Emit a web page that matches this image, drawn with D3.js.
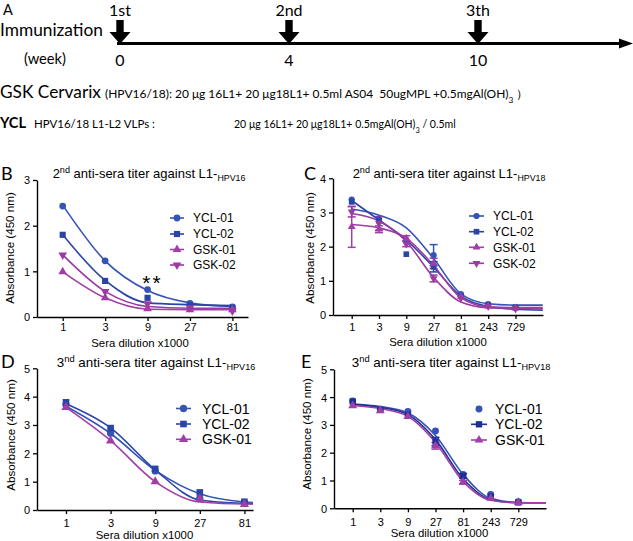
<!DOCTYPE html>
<html><head><meta charset="utf-8">
<script src="https://cdn.jsdelivr.net/npm/d3@7"></script>
<style>body{margin:0;background:#fff} svg{display:block} text{white-space:pre}</style>
</head><body>
<svg id="fig" width="633" height="541"></svg>
<script>
// ---------------- DATA ----------------
// Panel A
const weeks = ["0", "4", "10"];
const doseLabels = ["1st", "2nd", "3th"];

const seriesNames = ["YCL-01", "YCL-02", "GSK-01", "GSK-02"];

// Panel B : 2nd anti-sera titer against L1-HPV16
const dilB = [1, 3, 9, 27, 81];
const bYCL01 = [2.43, 1.23, 0.60, 0.30, 0.22];
const bYCL02 = [1.80, 0.79, 0.42, 0.25, 0.20];
const bGSK01 = [0.99, 0.42, 0.18, 0.16, 0.16];
const bGSK02 = [1.36, 0.56, 0.29, 0.20, 0.13];
const fitDilB = [1, 3, 9, 27, 81];
const bFitYCL01 = [2.45, 1.23, 0.58, 0.31, 0.23];
const bFitYCL02 = [1.80, 0.80, 0.31, 0.27, 0.25];
const bFitGSK01 = [0.99, 0.42, 0.17, 0.16, 0.16];
const bFitGSK02 = [1.36, 0.56, 0.23, 0.19, 0.19];

// Panel C : 2nd anti-sera titer against L1-HPV18
const dilC = [1, 3, 9, 27, 81, 243, 729];
const cYCL01 = [3.38, 2.80, 2.19, 1.75, 0.61, 0.32, 0.22];
const cYCL02 = [3.31, 2.76, 1.78, 1.41, 0.55, 0.29, 0.22];
const cGSK01 = [2.58, 2.51, 2.24, 1.51, 0.54, 0.26, 0.20];
const cGSK02 = [3.02, 2.68, 2.08, 1.07, 0.49, 0.25, 0.18];
const cErrYCL01 = [0, 0, 0, 0.31, 0, 0, 0];
const cErrYCL02 = [0, 0, 0, 0.15, 0, 0, 0];
const cErrGSK01 = [0.60, 0.10, 0.08, 0.15, 0, 0, 0];
const cErrGSK02 = [0.15, 0.20, 0.08, 0.10, 0, 0, 0];
const fitDilC = [1, 3, 9, 27, 81, 243, 729, 2187];
const cFitYCL01 = [3.10, 2.92, 2.55, 1.65, 0.62, 0.33, 0.29, 0.29];
const cFitYCL02 = [3.35, 2.78, 2.20, 1.40, 0.55, 0.25, 0.17, 0.14];
const cFitGSK01 = [2.65, 2.55, 2.25, 1.45, 0.50, 0.24, 0.22, 0.22];
const cFitGSK02 = [2.97, 2.75, 2.15, 1.10, 0.38, 0.21, 0.19, 0.18];

// Panel D : 3nd anti-sera titer against L1-HPV16
const dilD = [1, 3, 9, 27, 81];
const dYCL01 = [3.71, 2.71, 1.38, 0.41, 0.27];
const dYCL02 = [3.80, 2.89, 1.45, 0.62, 0.29];
const dGSK01 = [3.62, 2.44, 1.00, 0.39, 0.20];
const fitDilD = [1, 3, 9, 27, 81, 100];
const dFitYCL01 = [3.66, 2.70, 1.40, 0.57, 0.28, 0.26];
const dFitYCL02 = [3.75, 2.90, 1.42, 0.35, 0.23, 0.22];
const dFitGSK01 = [3.62, 2.45, 1.00, 0.28, 0.21, 0.21];

// Panel E : 3nd anti-sera titer against L1-HPV18
const dilE = [1, 3, 9, 27, 81, 243, 729];
const eYCL01 = [3.86, 3.56, 3.48, 2.78, 1.22, 0.50, 0.24];
const eYCL02 = [3.84, 3.54, 3.36, 2.40, 1.17, 0.42, 0.21];
const eGSK01 = [3.69, 3.51, 3.30, 2.25, 0.94, 0.36, 0.21];
const eErrYCL02 = [0, 0, 0, 0.15, 0.08, 0, 0];
const eErrGSK01 = [0, 0, 0, 0.12, 0.06, 0, 0];
const fitDilE = [1, 3, 9, 27, 81, 243, 729, 2187];
const eFitYCL01 = [3.75, 3.66, 3.43, 2.62, 1.22, 0.36, 0.21, 0.20];
const eFitYCL02 = [3.74, 3.63, 3.37, 2.47, 1.06, 0.31, 0.20, 0.20];
const eFitGSK01 = [3.70, 3.59, 3.31, 2.37, 0.97, 0.29, 0.20, 0.20];

const xTicks5 = [1, 3, 9, 27, 81];
const xTicks7 = [1, 3, 9, 27, 81, 243, 729];

// ---------------- STYLE ----------------
const BLUE = "#3554b6", BLUE2 = "#2a44a8", NAVY = "#1f2f96", PURPLE = "#a23ea8", PURPLE2 = "#9a3aa2";
const FONT = "'Liberation Sans', Arial, sans-serif";
const FONTA = "Lato, 'Open Sans', sans-serif";

const svg = d3.select("#fig");

function fitWidth(sel, w) {
  const L = sel.node().getComputedTextLength();
  const fs = parseFloat(sel.attr("font-size"));
  sel.attr("font-size", fs * w / L);
}

// ---------------- PANEL A ----------------
const gA = svg.append("g");
const wx = d3.scaleOrdinal().domain(weeks).range([120, 289, 478]);
gA.append("text").attr("x", 3).attr("y", 14.5).attr("font-family", FONTA).attr("font-size", 14.5).text("A");
gA.append("text").attr("x", 0).attr("y", 36).attr("font-family", FONTA).attr("font-size", 17)
  .text("Immunization").call(fitWidth, 103);
gA.append("text").attr("x", 24).attr("y", 64).attr("font-family", FONTA).attr("font-size", 16)
  .text("(week)").call(fitWidth, 42);
// timeline
gA.append("line").attr("x1", 117).attr("x2", 622).attr("y1", 43.5).attr("y2", 43.5)
  .attr("stroke", "#000").attr("stroke-width", 3);
gA.append("path").attr("d", "M619,38.5L633,43.5L619,48.5Z").attr("fill", "#000");
weeks.forEach((w, i) => {
  const cx = wx(w);
  gA.append("path")
    .attr("d", `M${cx-3.7},20H${cx+3.7}V32H${cx+10.5}L${cx},44L${cx-10.5},32H${cx-3.7}Z`)
    .attr("fill", "#000");
  gA.append("text").attr("x", cx).attr("y", 16).attr("text-anchor", "middle")
    .attr("font-family", FONTA).attr("font-size", 16).text(doseLabels[i]);
  gA.append("text").attr("x", cx).attr("y", 66).attr("text-anchor", "middle")
    .attr("font-family", FONTA).attr("font-size", 16).text(w);
});
// formulations
gA.append("text").attr("x", 0).attr("y", 98).attr("font-family", FONTA).attr("font-size", 18)
  .text("GSK Cervarix").call(fitWidth, 101);
const gskT = gA.append("text").attr("x", 105).attr("y", 98).attr("font-family", FONTA).attr("font-size", 12);
gskT.append("tspan").text("(HPV16/18): 20 \u03bcg 16L1+ 20 \u03bcg18L1+ 0.5ml AS04  50ugMPL +0.5mgAl(OH)");
gskT.append("tspan").attr("font-size", "70%").attr("baseline-shift", "sub").text("3");
gskT.append("tspan").text(" \uff09");
gskT.call(fitWidth, 424);
gA.append("text").attr("x", 0).attr("y", 128).attr("font-family", FONTA).attr("font-size", 15)
  .attr("font-weight", "bold").text("YCL").call(fitWidth, 26);
gA.append("text").attr("x", 34).attr("y", 128).attr("font-family", FONTA).attr("font-size", 11)
  .text("HPV16/18 L1-L2 VLPs :").call(fitWidth, 121);
const yclT = gA.append("text").attr("x", 234).attr("y", 128).attr("font-family", FONTA).attr("font-size", 12);
yclT.append("tspan").text("20 \u03bcg 16L1+ 20 \u03bcg18L1+ 0.5mgAl(OH)");
yclT.append("tspan").attr("font-size", "70%").attr("baseline-shift", "sub").text("3");
yclT.append("tspan").text(" / 0.5ml");
yclT.call(fitWidth, 222);

// ---------------- CHART PANELS ----------------
const SYM = {
  circle: d3.symbolCircle, square: d3.symbolSquare, up: d3.symbolTriangle, down: d3.symbolTriangle
};

function panel(c) {
  const g = svg.append("g");
  // x scale calibrated on ticks, then extended to the axis extent
  const x0 = d3.scaleLog().base(3).domain([1, c.xRef]).range(c.xRefPx);
  const x = d3.scaleLog().base(3).domain([x0.invert(c.axisX[0]), x0.invert(c.axisX[1])]).range(c.axisX);
  const y = d3.scaleLinear().domain([0, c.yMax]).range(c.yPx);

  // axes
  const ax = g.append("g").attr("transform", `translate(0,${c.yPx[0]})`)
    .call(d3.axisBottom(x).tickValues(c.xTicks).tickFormat(d3.format("d")).tickSize(4).tickSizeOuter(0).tickPadding(4));
  const ay = g.append("g").attr("transform", `translate(${c.axisX[0]},0)`)
    .call(d3.axisLeft(y).tickValues(d3.range(0, c.yMax + 1)).tickFormat(d3.format("d")).tickSize(4).tickSizeOuter(0).tickPadding(3));
  [ax, ay].forEach(a => {
    a.select(".domain").attr("stroke", "#000").attr("stroke-width", 1.4);
    a.selectAll(".tick line").attr("stroke", "#000").attr("stroke-width", 1.3);
    a.selectAll(".tick text").attr("font-family", FONT).attr("font-size", 11).attr("fill", "#000");
  });
  ax.selectAll(".tick text").attr("dy", null).attr("y", c.tickBase - c.yPx[0]);
  ay.selectAll(".tick text").attr("dy", "0.36em");

  // axis titles
  g.append("text").attr("transform", `translate(${c.ylabX},${c.ylabY}) rotate(-90)`)
    .attr("text-anchor", "middle").attr("dy", "0.36em").attr("font-family", FONT).attr("font-size", 11.6)
    .text("Absorbance (450 nm)");
  g.append("text").attr("x", c.xlabX).attr("y", c.xlabBase).attr("text-anchor", "middle")
    .attr("font-family", FONT).attr("font-size", 11.4).text("Sera dilution x1000");

  // panel letter
  g.append("text").attr("x", c.letterX).attr("y", c.letterBase).attr("font-family", FONTA)
    .attr("font-size", 18).text(c.letter);

  // title
  const t = g.append("text").attr("x", c.titleX).attr("y", c.titleBase).attr("text-anchor", "middle")
    .attr("font-family", FONT).attr("font-size", c.titleFs);
  t.append("tspan").text(c.titleLead);
  t.append("tspan").attr("font-size", "70%").attr("baseline-shift", "super").text("nd");
  t.append("tspan").text(" anti-sera titer against L1-");
  t.append("tspan").attr("font-size", "68%").attr("baseline-shift", "-30%").text(c.titleSub);

  const line = d3.line().x(d => x(d[0])).y(d => y(d[1])).curve(d3.curveMonotoneX);

  // fitted curves
  c.series.forEach(s => {
    if (!s.fit) return;
    g.append("path").attr("d", line(c.fitDil.map((d, i) => [d, s.fit[i]])))
      .attr("fill", "none").attr("stroke", s.color).attr("stroke-width", 1.6);
  });
  // error bars
  c.series.forEach(s => {
    if (!s.err) return;
    c.dil.forEach((d, i) => {
      const e = s.err[i];
      if (!e) return;
      const px = x(d), y1 = y(s.vals[i] - e), y2 = y(s.vals[i] + e);
      g.append("line").attr("x1", px).attr("x2", px).attr("y1", y1).attr("y2", y2)
        .attr("stroke", s.color).attr("stroke-width", 1.5);
      [y1, y2].forEach(yy => g.append("line").attr("x1", px - 4).attr("x2", px + 4).attr("y1", yy).attr("y2", yy)
        .attr("stroke", s.color).attr("stroke-width", 1.5));
    });
  });
  // markers
  function marker(gg, s, px, py) {
    gg.append("path").attr("d", d3.symbol().type(SYM[s.shape]).size(s.shape === "circle" ? c.msize * 0.95 : s.shape === "square" ? c.msize : c.msize * 0.85)())
      .attr("transform", `translate(${px},${py})` + (s.shape === "down" ? " rotate(180)" : ""))
      .attr("fill", s.color);
  }
  c.series.forEach(s => {
    c.dil.forEach((d, i) => marker(g, s, x(d), y(s.vals[i])));
  });
  // extra annotation
  if (c.note) {
    g.append("text").attr("x", x(c.note.at) + 5).attr("y", c.note.base).attr("text-anchor", "middle")
      .attr("font-family", FONT).attr("font-size", 21).attr("letter-spacing", 2).text(c.note.text);
  }
  // legend
  c.series.forEach((s, i) => {
    const ry = c.legRows[i];
    if (s.fit && !s.noLegLine) g.append("line").attr("x1", c.legX[0]).attr("x2", c.legX[1]).attr("y1", ry).attr("y2", ry)
      .attr("stroke", s.color).attr("stroke-width", 1.6);
    marker(g, s, (c.legX[0] + c.legX[1]) / 2, ry);
    g.append("text").attr("x", c.legTx).attr("y", ry).attr("dy", "0.36em").attr("font-family", FONT)
      .attr("font-size", c.legFs).text(s.name);
  });
}

panel({
  letter: "B", letterX: 1, letterBase: 180,
  titleLead: "2", titleSub: "HPV16", titleX: 149, titleBase: 178, titleFs: 13,
  xRef: 81, xRefPx: [62.7, 232.4], axisX: [37, 248], yMax: 3, yPx: [317, 180], xTicks: xTicks5,
  tickBase: 331, ylabX: 10, ylabY: 248, xlabX: 140, xlabBase: 347,
  dil: dilB, fitDil: fitDilB, msize: 38,
  legRows: [218, 234, 249.5, 265], legX: [170, 184], legTx: 193, legFs: 12,
  note: { at: 9, base: 290, text: "**" },
  series: [
    { name: seriesNames[0], vals: bYCL01, fit: bFitYCL01, color: BLUE, shape: "circle" },
    { name: seriesNames[1], vals: bYCL02, fit: bFitYCL02, color: BLUE2, shape: "square" },
    { name: seriesNames[2], vals: bGSK01, fit: bFitGSK01, color: PURPLE, shape: "up" },
    { name: seriesNames[3], vals: bGSK02, fit: bFitGSK02, color: PURPLE2, shape: "down" }
  ]
});

panel({
  letter: "C", letterX: 304, letterBase: 180,
  titleLead: "2", titleSub: "HPV18", titleX: 449, titleBase: 178, titleFs: 13,
  xRef: 729, xRefPx: [351.7, 515.5], axisX: [333, 543], yMax: 4, yPx: [315, 178.3], xTicks: xTicks7,
  tickBase: 331, ylabX: 310, ylabY: 248, xlabX: 438, xlabBase: 346,
  dil: dilC, fitDil: fitDilC, msize: 32,
  legRows: [216, 231.7, 247.3, 263.3], legX: [469, 484], legTx: 493, legFs: 12,
  series: [
    { name: seriesNames[0], vals: cYCL01, err: cErrYCL01, fit: cFitYCL01, color: BLUE, shape: "circle" },
    { name: seriesNames[1], vals: cYCL02, err: cErrYCL02, fit: cFitYCL02, color: BLUE2, shape: "square" },
    { name: seriesNames[2], vals: cGSK01, err: cErrGSK01, fit: cFitGSK01, color: PURPLE, shape: "up" },
    { name: seriesNames[3], vals: cGSK02, err: cErrGSK02, fit: cFitGSK02, color: PURPLE2, shape: "down" }
  ]
});

panel({
  letter: "D", letterX: 1, letterBase: 368,
  titleLead: "3", titleSub: "HPV16", titleX: 156, titleBase: 367, titleFs: 13.4,
  xRef: 81, xRefPx: [66, 244.4], axisX: [37, 253], yMax: 5, yPx: [510, 368.3], xTicks: xTicks5,
  tickBase: 527, ylabX: 11, ylabY: 435, xlabX: 144.5, xlabBase: 539,
  dil: dilD, fitDil: fitDilD, msize: 44,
  legRows: [408.5, 424, 439.3], legX: [176, 191], legTx: 202, legFs: 14,
  series: [
    { name: seriesNames[0], vals: dYCL01, fit: dFitYCL01, color: BLUE, shape: "circle" },
    { name: seriesNames[1], vals: dYCL02, fit: dFitYCL02, color: BLUE2, shape: "square" },
    { name: seriesNames[2], vals: dGSK01, fit: dFitGSK01, color: PURPLE, shape: "up" }
  ]
});

panel({
  letter: "E", letterX: 301, letterBase: 368,
  titleLead: "3", titleSub: "HPV18", titleX: 451, titleBase: 367, titleFs: 13.4,
  xRef: 729, xRefPx: [352.7, 518.3], axisX: [334, 546], yMax: 5, yPx: [508.3, 369.3], xTicks: xTicks7,
  tickBase: 526, ylabX: 307, ylabY: 434, xlabX: 439.5, xlabBase: 537,
  dil: dilE, fitDil: fitDilE, msize: 40,
  legRows: [409, 424.3, 440], legX: [471, 487], legTx: 495, legFs: 14,
  series: [
    { name: seriesNames[0], vals: eYCL01, fit: eFitYCL01, color: BLUE, shape: "circle", noLegLine: true },
    { name: seriesNames[1], vals: eYCL02, err: eErrYCL02, fit: eFitYCL02, color: NAVY, shape: "square" },
    { name: seriesNames[2], vals: eGSK01, err: eErrGSK01, fit: eFitGSK01, color: PURPLE, shape: "up" }
  ]
});
</script>
</body></html>
